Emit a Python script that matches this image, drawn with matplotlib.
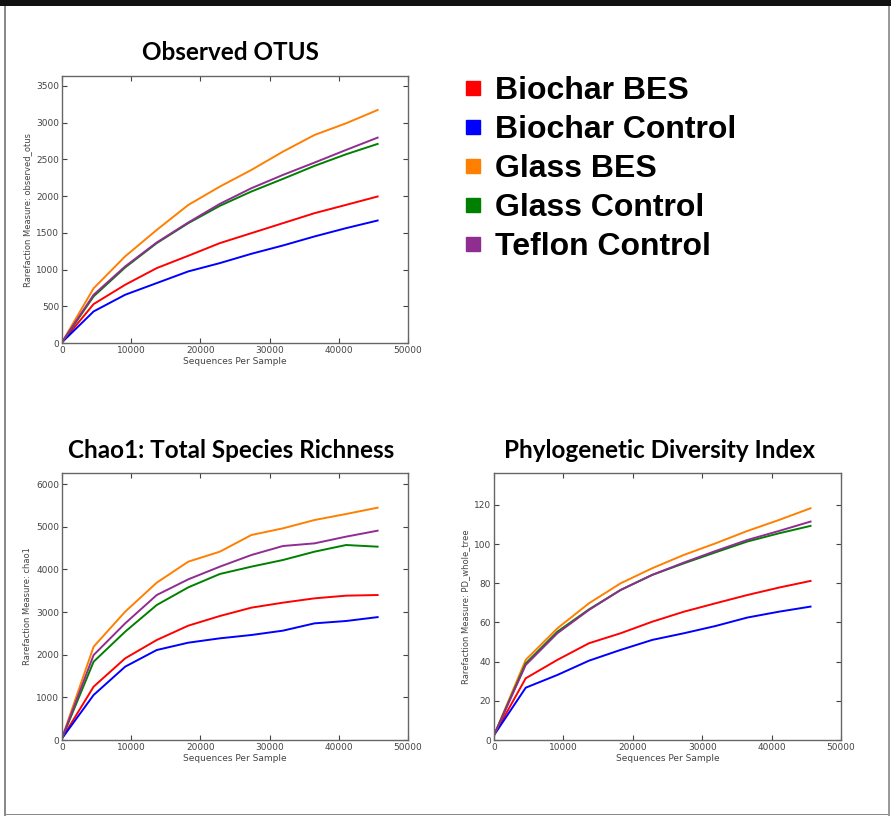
import matplotlib
matplotlib.use("Agg")
import matplotlib.pyplot as plt
from matplotlib.lines import Line2D
from matplotlib.patches import Rectangle

# ---------------- data ----------------
seqs = [10, 4570, 9130, 13690, 18250, 22810, 27370, 31930, 36490, 41050, 45610]

series_names = ["Biochar BES", "Biochar Control", "Glass BES", "Glass Control", "Teflon Control"]
series_colors = ["#ff0000", "#0000ff", "#ff7f00", "#008000", "#8f2d91"]

observed_biochar_bes = [10, 530, 793, 1020, 1188, 1360, 1496, 1632, 1768, 1881, 1995]
observed_biochar_ctrl = [10, 430, 657, 816, 975, 1088, 1215, 1328, 1451, 1564, 1668]
observed_glass_bes = [12, 745, 1180, 1540, 1880, 2130, 2357, 2606, 2833, 2992, 3173]
observed_glass_ctrl = [11, 635, 1029, 1360, 1632, 1868, 2063, 2235, 2412, 2570, 2711]
observed_teflon_ctrl = [11, 657, 1043, 1369, 1641, 1895, 2108, 2289, 2457, 2629, 2797]

chao1_biochar_bes = [40, 1250, 1914, 2344, 2680, 2906, 3102, 3219, 3320, 3383, 3398]
chao1_biochar_ctrl = [40, 1055, 1719, 2109, 2281, 2383, 2461, 2563, 2734, 2789, 2880]
chao1_glass_bes = [50, 2187, 3008, 3688, 4180, 4414, 4805, 4961, 5156, 5297, 5445]
chao1_glass_ctrl = [45, 1836, 2539, 3164, 3578, 3891, 4063, 4219, 4414, 4570, 4531]
chao1_teflon_ctrl = [45, 1992, 2734, 3398, 3766, 4063, 4336, 4547, 4609, 4766, 4906]

pd_biochar_bes = [2.5, 31.5, 40.9, 49.4, 54.5, 60.4, 65.5, 69.8, 74.0, 77.8, 81.2]
pd_biochar_ctrl = [2.5, 26.7, 33.2, 40.5, 46.0, 51.1, 54.5, 58.2, 62.5, 65.5, 68.1]
pd_glass_bes = [2.5, 40.9, 57.0, 69.8, 80.0, 87.7, 94.5, 100.4, 106.7, 112.3, 118.3]
pd_glass_ctrl = [2.5, 39.1, 55.3, 66.7, 76.6, 84.3, 90.2, 95.8, 101.3, 105.5, 109.3]
pd_teflon_ctrl = [2.5, 38.3, 54.5, 66.4, 76.6, 84.3, 90.6, 96.5, 102.1, 106.7, 111.5]

x_ticks = [0, 10000, 20000, 30000, 40000, 50000]
observed_yticks = [0, 500, 1000, 1500, 2000, 2500, 3000, 3500]
chao1_yticks = [0, 1000, 2000, 3000, 4000, 5000, 6000]
pd_yticks = [0, 20, 40, 60, 80, 100, 120]

titles = ["Observed OTUS", "Chao1: Total Species Richness", "Phylogenetic Diversity Index"]
ylabels = ["Rarefaction Measure: observed_otus", "Rarefaction Measure: chao1",
           "Rarefaction Measure: PD_whole_tree"]
xlabel = "Sequences Per Sample"

# ---------------- figure ----------------
W, H = 891, 816
fig = plt.figure(figsize=(W / 100, H / 100), dpi=100)
fig.patch.set_facecolor("white")


def fx(px):
    return px / W


def fy(py):
    return 1 - py / H


panels = [
    dict(rect=[fx(62), fy(343), fx(346), 267 / H], ylim=3636, yticks=observed_yticks,
         data=[observed_biochar_bes, observed_biochar_ctrl, observed_glass_bes,
               observed_glass_ctrl, observed_teflon_ctrl],
         title_xy=(230, 52)),
    dict(rect=[fx(62), fy(740), fx(346), 267 / H], ylim=6258, yticks=chao1_yticks,
         data=[chao1_biochar_bes, chao1_biochar_ctrl, chao1_glass_bes,
               chao1_glass_ctrl, chao1_teflon_ctrl],
         title_xy=(231, 451)),
    dict(rect=[fx(494), fy(740), fx(347), 267 / H], ylim=136.3, yticks=pd_yticks,
         data=[pd_biochar_bes, pd_biochar_ctrl, pd_glass_bes,
               pd_glass_ctrl, pd_teflon_ctrl],
         title_xy=(660, 451)),
]

tick_color = "#444444"
for i, p in enumerate(panels):
    ax = fig.add_axes(p["rect"])
    for vals, col in zip(p["data"], series_colors):
        ax.plot(seqs, vals, color=col, lw=1.4, solid_joinstyle="round")
    ax.set_xlim(0, 50000)
    ax.set_ylim(0, p["ylim"])
    ax.set_xticks(x_ticks)
    ax.set_yticks(p["yticks"])
    ax.tick_params(direction="in", length=3.5, width=0.8, top=True, right=True,
                   labelsize=6.5, colors=tick_color, pad=2)
    for s in ax.spines.values():
        s.set_color("#666666")
        s.set_linewidth(1.0)
    ax.set_xlabel(xlabel, fontsize=6.5, color=tick_color, labelpad=1.5)
    ax.set_ylabel(ylabels[i], fontsize=6, color=tick_color, labelpad=3)
    tx, ty = p["title_xy"]
    fig.text(fx(tx), fy(ty), titles[i], ha="center", va="center",
             fontsize=17.5, fontweight="bold", family="Lato")

# legend
handles = [Line2D([], [], linestyle="none", marker="s", markersize=10,
                  markerfacecolor=c, markeredgecolor=c) for c in series_colors]
fig.legend(handles, series_names, loc="upper left", bbox_to_anchor=(fx(447), fy(60)),
           frameon=False, handlelength=0.6, handletextpad=0.39, labelspacing=0.285,
           prop=dict(family="Liberation Sans", weight="bold", size=23), borderpad=0)

# page frame lines
fig.add_artist(Rectangle((0, fy(6)), 1, 6 / H, transform=fig.transFigure,
                         facecolor="#111111", edgecolor="none"))
fig.add_artist(Rectangle((fx(4), 0), 2 / W, fy(6), transform=fig.transFigure,
                         facecolor="#8a8a8a", edgecolor="none"))
fig.add_artist(Rectangle((fx(888), 0), 1.5 / W, fy(6), transform=fig.transFigure,
                         facecolor="#9a9a9a", edgecolor="none"))
fig.add_artist(Rectangle((fx(4), fy(815)), (888 - 4) / W, 1.5 / H, transform=fig.transFigure,
                         facecolor="#8a8a8a", edgecolor="none"))

fig.savefig("out.png", dpi=100, facecolor="white")
